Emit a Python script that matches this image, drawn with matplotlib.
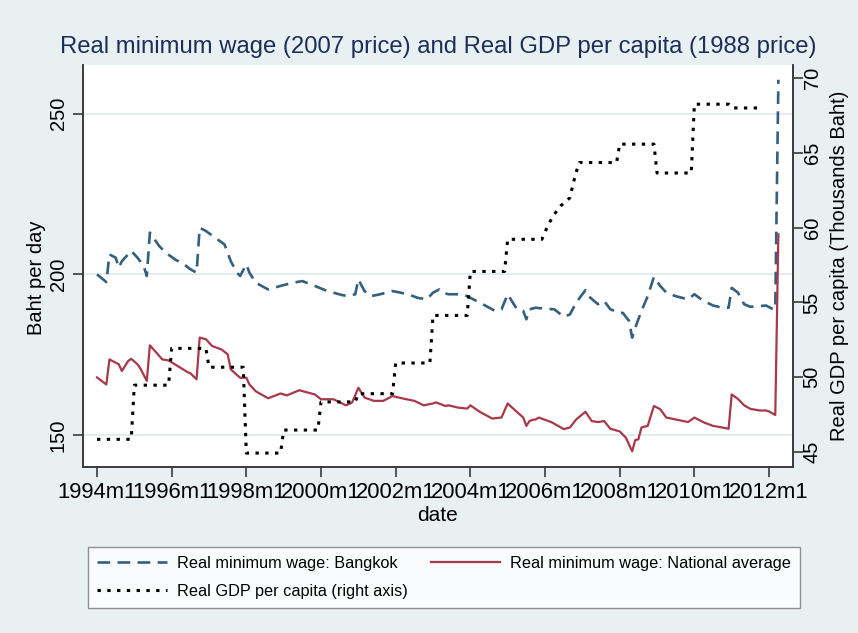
import matplotlib
matplotlib.use("Agg")
import matplotlib.pyplot as plt
import numpy as np

plt.rcParams['font.family'] = ['Liberation Sans', 'DejaVu Sans']

# ---- data (months since 1994m1) ----
bkk_month = [0, 3, 4, 6, 7, 8, 11, 13, 15, 16, 17, 20, 22, 25, 28, 30, 32, 33, 35, 38, 41, 43, 45, 46,
             48, 49, 51, 55, 59, 63, 66, 70, 74, 79, 81, 83, 84, 86, 88, 91, 95, 100, 103, 106, 108,
             110, 111, 113, 117, 119, 121, 124, 127, 128, 130, 132, 133, 135, 137, 138, 139, 141, 144,
             147, 150, 152, 154, 157, 158, 161, 163, 165, 168, 169, 171, 172, 173, 175, 177, 179, 181,
             183, 186, 190, 192, 195, 198, 201, 203, 204, 206, 208, 210, 213, 215, 217, 218, 219]
bkk_value = [200.0, 197.6, 206.2, 205.2, 202.1, 204.1, 207.3, 205.2, 202.6, 199.5, 213.0, 208.8, 206.8,
             204.7, 203.1, 201.6, 200.5, 214.5, 213.5, 211.4, 209.3, 204.1, 200.5, 199.5,
             203.1, 200.5, 197.4, 195.3, 196.4, 197.4, 197.9, 196.4, 194.8, 193.5, 193.2, 193.8, 198.4,
             194.8, 193.2, 193.8, 194.8, 193.8, 192.7, 192.2, 194.3,
             195.3, 194.3, 193.8, 193.8, 193.2, 192.2, 190.7, 189.1, 188.6, 189.1, 193.8, 192.2, 189.1,
             188.6, 186.0, 189.1, 189.6, 189.3,
             189.1, 186.8, 187.5, 191.2, 195.1, 193.2, 190.7, 191.7, 189.1, 188.0, 188.0, 185.5, 180.3,
             183.4, 188.6, 193.2, 199.2, 196.4,
             194.3, 193.2, 192.2, 193.8, 191.7, 190.3, 189.6, 189.6, 195.8, 194.3, 190.7, 189.9, 190.1,
             190.3, 189.3, 189.1, 260.6]

nat_month = [0, 3, 4, 6, 7, 8, 10, 11, 13, 14, 16, 17, 21, 23, 26, 29, 30, 32, 33, 35, 37, 40, 42, 43,
             46, 48, 49, 51, 55, 59, 61, 65, 70, 72, 76, 80, 82, 84, 86, 89, 92, 95, 98, 102, 105, 108,
             109, 112, 113, 116, 119, 120, 123, 127, 130, 132, 134, 137, 138, 139, 140, 141, 142, 146,
             150, 152, 154, 157, 159, 161, 163, 165, 168, 170, 172, 173, 174, 175, 177, 179, 181, 183,
             186, 190, 192, 195, 198, 201, 203, 204, 206, 208, 210, 213, 215, 216, 218, 219]
nat_value = [167.9, 165.7, 173.5, 172.5, 172.0, 169.9, 173.0, 173.7, 172.0, 170.6, 166.8, 177.9, 173.5,
             173.2, 171.4, 169.6, 169.2, 167.3, 180.3, 179.8, 177.7, 176.6, 175.1, 170.4,
             167.8, 167.8, 165.7, 163.6, 161.4, 162.9, 162.3, 163.9, 162.6, 161.1, 161.1, 159.2, 160.1,
             164.7, 161.6, 160.6, 160.6, 162.1, 161.4, 160.6, 159.2, 159.8,
             160.1, 159.0, 159.2, 158.5, 158.2, 159.2, 157.2, 155.1, 155.4, 159.8, 158.0, 155.4, 152.8,
             154.3, 154.7, 154.8, 155.4, 154.0,
             151.8, 152.3, 154.8, 157.2, 154.3, 154.0, 154.3, 151.9, 151.1, 149.1, 144.9, 148.4, 148.6,
             152.3, 152.8, 159.0, 158.0, 155.4,
             154.8, 154.0, 155.4, 153.9, 152.8, 152.3, 151.9, 162.6, 161.2, 159.2, 158.1, 157.6, 157.6,
             157.3, 156.2, 212.5]

gdp_month = [0, 11, 12, 23, 24, 35, 36, 47, 48, 59, 60, 71, 72, 83, 84, 95, 96, 107, 108, 119,
             120, 131, 132, 143, 144, 145, 147, 149, 151, 152, 153, 154, 155, 167, 168, 179,
             180, 191, 192, 203, 204, 214]
gdp_value = [45.85, 45.85, 49.47, 49.47, 51.93, 51.93, 50.67, 50.67, 44.93, 44.93, 46.47, 46.47,
             48.35, 48.35, 48.9, 48.9, 50.95, 50.95, 54.13, 54.13, 57.07, 57.07, 59.22, 59.22,
             59.7, 60.2, 60.9, 61.45, 61.8, 62.0, 62.9, 63.7, 64.35, 64.35, 65.58, 65.58,
             63.65, 63.65, 68.25, 68.25, 68.0, 68.0]

xtick_months = [0, 24, 48, 72, 96, 120, 144, 168, 192, 216]
xtick_labels = ['1994m1', '1996m1', '1998m1', '2000m1', '2002m1', '2004m1', '2006m1',
                '2008m1', '2010m1', '2012m1']
left_ticks = [150, 200, 250]
right_ticks = [45, 50, 55, 60, 65, 70]

def to_year(m):
    return 1994 + np.asarray(m, dtype=float) / 12.0

BG = '#E8F0F2'
BLUE = '#33607F'
RED = '#A8384A'
SPINE = '#3A3A3A'

fig = plt.figure(figsize=(8.58, 6.33), dpi=100, facecolor=BG)
ax = fig.add_axes([83/858, 1-467/633, (793-83)/858, (467-65)/633])
ax.set_facecolor('white')
ax2 = ax.twinx()

l1, = ax.plot(to_year(bkk_month), bkk_value, color=BLUE, lw=1.9,
              linestyle=(0, (4.8, 2.8)), label='Real minimum wage: Bangkok')
l2, = ax.plot(to_year(nat_month), nat_value, color=RED, lw=1.6,
              label='Real minimum wage: National average')
l3, = ax2.plot(to_year(gdp_month), gdp_value, color='black', lw=2.2,
               linestyle=(0, (1.1, 2.1)), label='Real GDP per capita (right axis)')

ax.set_xlim(to_year(-4.5), to_year(223.7))
ax.set_ylim(140, 265.2)
ax2.set_ylim(44, 70.87)

for yv in left_ticks:
    ax.axhline(yv, color='#E3ECEE', lw=1.4, zorder=0)

ax.set_xticks(to_year(xtick_months))
ax.set_xticklabels(xtick_labels, fontsize=15.8)
ax.set_yticks(left_ticks)
ax.set_yticklabels([str(v) for v in left_ticks], fontsize=14.5, rotation=90, va='center')
ax2.set_yticks(right_ticks)
ax2.set_yticklabels([str(v) for v in right_ticks], fontsize=14.5, rotation=90, va='center')

for a in (ax, ax2):
    a.tick_params(axis='both', direction='out', length=7, width=1.2, color=SPINE, pad=4)
    a.spines['top'].set_visible(False)
    for s in ('left', 'right', 'bottom'):
        a.spines[s].set_color(SPINE)
        a.spines[s].set_linewidth(1.2)
ax2.tick_params(axis='y', pad=0)

ax.set_ylabel('Baht per day', fontsize=14.5)
ax.yaxis.set_label_coords(-0.052, 0.47)
ax2.set_ylabel('Real GDP per capita (Thousands Baht)', fontsize=14.5, labelpad=6)
ax.set_xlabel('date', fontsize=15, labelpad=2)

fig.text(438/858, 1-47/633, 'Real minimum wage (2007 price) and Real GDP per capita (1988 price)',
         ha='center', va='center', fontsize=17.2, color='#1C2E5A')

leg = fig.legend([l1, l3, l2], [l1.get_label(), l3.get_label(), l2.get_label()],
                 ncol=2, mode='expand', loc='lower left',
                 bbox_to_anchor=(88/858, 1-608/633, (800-88)/858, (608-537)/633),
                 fontsize=11.7, frameon=True, fancybox=False, edgecolor='#777777',
                 handlelength=4.3, handletextpad=0.6, labelspacing=0.8, borderaxespad=0,
                 borderpad=0.55)
leg.get_frame().set_linewidth(1.0)

fig.savefig('out.png', dpi=100, facecolor=BG)
